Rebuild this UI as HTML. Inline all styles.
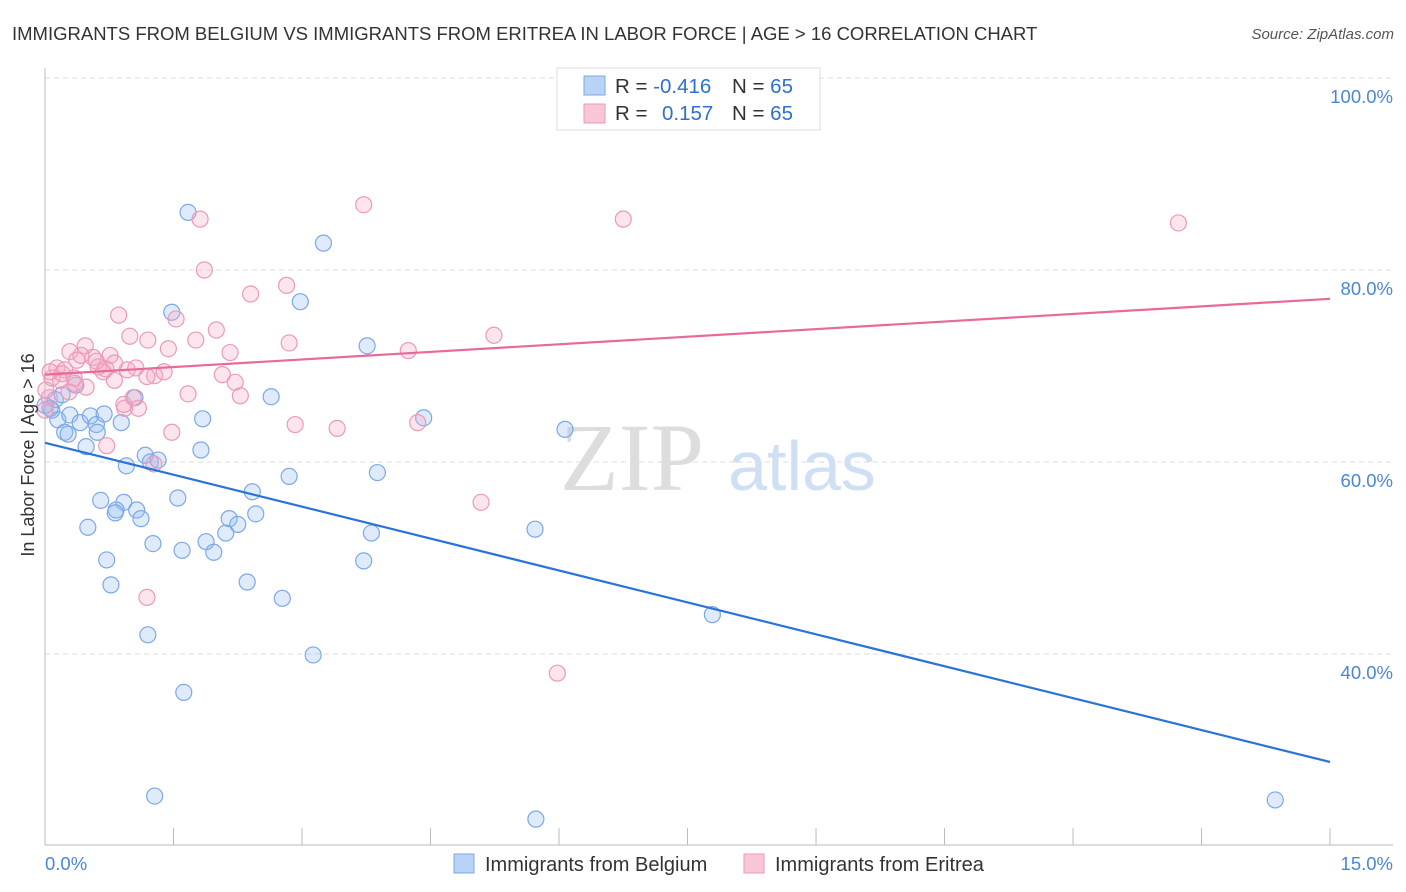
<!DOCTYPE html>
<html><head><meta charset="utf-8"><style>
body{margin:0;background:#fff;font-family:"Liberation Sans",sans-serif;}
svg{display:block}
</style></head><body>
<svg id="chart" width="1406" height="892" xmlns="http://www.w3.org/2000/svg">
<text x="12" y="40" font-size="18.5" fill="#333">IMMIGRANTS FROM BELGIUM VS IMMIGRANTS FROM ERITREA IN LABOR FORCE | AGE &gt; 16 CORRELATION CHART</text>
<text x="1394" y="39" font-size="15" fill="#555" font-style="italic" text-anchor="end">Source: ZipAtlas.com</text>
<g id="grid"></g>
<g><text x="632" y="490" font-size="96" font-family="Liberation Serif,serif" fill="#ddd" text-anchor="middle">ZIP</text><text x="802" y="490" font-size="70" fill="#cfe0f5" text-anchor="middle">atlas</text></g>
<g id="axes"></g>
<g id="pts"></g>
<g id="trend"></g>
<g>
<rect x="557" y="68" width="263" height="62" fill="#fff" stroke="#ddd"/>
<rect x="584" y="76" width="21" height="19" fill="#b8d3f5" stroke="#7aa9e6"/>
<rect x="584" y="104" width="21" height="19" fill="#f9c6d6" stroke="#eb9ab8"/>
<text x="615" y="93" font-size="20.5" fill="#333">R = <tspan fill="#2f6fd0">-0.416</tspan></text>
<text x="732" y="93" font-size="20.5" fill="#333">N = <tspan fill="#2f6fd0">65</tspan></text>
<text x="615" y="120" font-size="20.5" fill="#333">R = </text><text x="662" y="120" font-size="20.5" fill="#2f6fd0">0.157</text>
<text x="732" y="120" font-size="20.5" fill="#333">N = <tspan fill="#2f6fd0">65</tspan></text>
</g>
<g>
<rect x="454" y="854" width="20" height="19" fill="#b8d3f5" stroke="#7aa9e6"/>
<text x="485" y="871" font-size="20" fill="#333">Immigrants from Belgium</text>
<rect x="744" y="854" width="20" height="19" fill="#f9c6d6" stroke="#eb9ab8"/>
<text x="775" y="871" font-size="20" fill="#333">Immigrants from Eritrea</text>
</g>
<text transform="translate(34,455) rotate(-90)" font-size="18" fill="#333" text-anchor="middle">In Labor Force | Age &gt; 16</text>
</svg>
<script>
const belgiumX=[1.67,3.25,1.48,2.98,3.76,2.64,1.84,4.42,6.07,0.12,0.08,0.15,0.29,0.23,0.27,0.41,0.53,0.60,0.61,0.69,0.89,1.05,0.36,0.48,1.17,1.23,1.32,1.82,0.95,2.85,3.88,1.55,2.42,0.65,0.92,0.83,0.82,1.07,1.12,0.50,2.15,2.46,2.25,2.11,1.26,1.60,1.88,1.97,3.81,5.72,0.72,3.72,0.77,2.36,2.77,1.20,7.79,3.13,1.62,1.28,5.73,14.36,0.06,0.20,0.0];
const belgiumY=[86.0,82.8,75.6,76.7,72.1,66.8,64.5,64.6,63.4,66.5,65.4,64.4,64.9,63.1,62.9,64.1,64.8,63.9,63.1,65.0,64.1,66.7,68.0,61.6,60.7,60.0,60.2,61.25,59.6,58.5,58.9,56.25,56.9,56.0,55.8,55.0,54.7,55.0,54.1,53.2,54.1,54.6,53.5,52.6,51.5,50.8,51.7,50.6,52.6,53.0,49.8,49.7,47.2,47.5,45.8,42.0,44.1,39.9,36.0,25.2,22.8,24.8,65.6,67.0,65.9];
const eritreaX=[3.72,6.75,13.23,1.81,1.86,2.40,2.82,0.86,1.53,0.99,1.20,2.0,1.76,2.85,5.24,1.44,2.16,4.24,0.29,0.47,0.56,0.76,0.37,0.14,0.23,0.62,0.68,0.96,1.06,1.28,1.39,1.19,0.81,2.22,0.48,0.18,0.08,0.35,0.06,2.07,2.28,1.67,0.93,1.09,1.03,0.92,2.92,3.41,4.35,1.48,0.72,1.27,5.09,1.19,5.98,0.05,0.20,0.42,0.60,0.81,0.34,0.01,0.28,0.0,0.71];
const eritreaY=[86.8,85.3,84.9,85.3,80.0,77.5,78.4,75.3,74.9,73.1,72.7,73.75,72.7,72.4,73.2,71.8,71.4,71.6,71.5,72.1,70.9,71.1,70.6,69.8,69.6,69.9,69.4,69.6,69.8,69.0,69.4,68.9,68.5,68.3,67.8,68.5,68.75,68.2,69.4,69.1,66.9,67.1,65.6,65.6,66.7,66.0,63.9,63.5,64.1,63.1,61.7,59.8,55.8,45.9,38.0,66.7,69.2,71.1,70.5,70.3,68.75,67.5,67.3,65.4,69.7];
const belgiumTrend=[62.0,28.75];
const eritreaTrend=[69.1,77.0];
const yTicks=[40,60,80,100];
const yTickLabels=["40.0%","60.0%","80.0%","100.0%"];
const xTicks=[0,1.5,3,4.5,6,7.5,9,10.5,12,13.5,15];

const NS="http://www.w3.org/2000/svg";
const sx=v=>45+v*85.67;
const sy=v=>78+(100-v)*9.6;
function mk(tag,attrs,parent){const e=document.createElementNS(NS,tag);for(const k in attrs)e.setAttribute(k,attrs[k]);parent.appendChild(e);return e;}
const grid=document.getElementById('grid'),axes=document.getElementById('axes'),pts=document.getElementById('pts'),trend=document.getElementById('trend');
yTicks.forEach((t,i)=>{
  const l=mk('line',{x1:45,x2:1393,y1:sy(t),y2:sy(t),stroke:'#ddd','stroke-dasharray':'5,4'},grid);
  
  
  const tx=mk('text',{x:1393,y:sy(t)+25,'font-size':18.5,fill:'#4a86d8','text-anchor':'end'},axes);
  tx.textContent=yTickLabels[i];
  
  
});
mk('line',{x1:45,x2:1393,y1:845,y2:845,stroke:'#bbb'},axes);
mk('line',{x1:45,x2:45,y1:68,y2:845,stroke:'#bbb'},axes);
xTicks.forEach(t=>{
  const l=mk('line',{x1:sx(t),x2:sx(t),y1:828,y2:845,stroke:'#bbb'},axes);
  
  
});
const xl=mk('text',{x:45,y:870,'font-size':18.5,fill:'#4a86d8'},axes);xl.textContent='0.0%';


const xr=mk('text',{x:1393,y:870,'font-size':18.5,fill:'#4a86d8','text-anchor':'end'},axes);xr.textContent='15.0%';


function series(X,Y,fill,stroke,name){
  X.forEach((x,i)=>{
    const c=mk('circle',{cx:sx(x),cy:sy(Y[i]),r:8,fill:fill,stroke:stroke,'stroke-width':1.2},pts);
    
    
  });
}
series(belgiumX,belgiumY,'rgba(150,190,240,0.3)','#7aa9e6','belgium');
series(eritreaX,eritreaY,'rgba(245,170,195,0.3)','#eb9ab8','eritrea');
const tb=mk('line',{x1:sx(0),y1:sy(belgiumTrend[0]),x2:sx(15),y2:sy(belgiumTrend[1]),stroke:'#2a74d8','stroke-width':2.2},trend);


const te=mk('line',{x1:sx(0),y1:sy(eritreaTrend[0]),x2:sx(15),y2:sy(eritreaTrend[1]),stroke:'#e8699a','stroke-width':2.2},trend);


</script>
</body></html>
